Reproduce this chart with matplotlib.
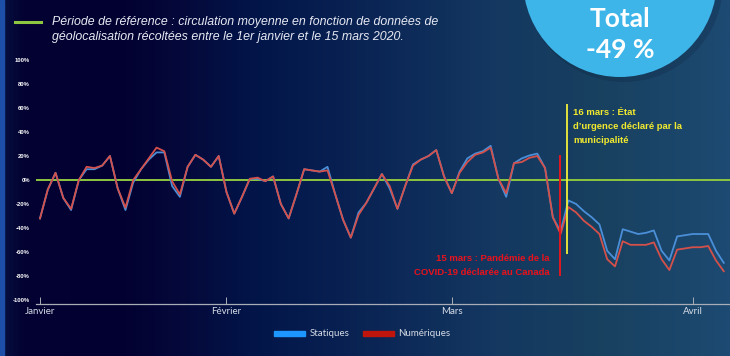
import matplotlib
matplotlib.use("Agg")
import matplotlib.pyplot as plt
import numpy as np
from matplotlib.colors import LinearSegmentedColormap
from matplotlib.patches import Circle, Rectangle

# daily values, first point = 8 janvier 2020
numeriques = [-32, -8, 6, -15, -24, 0, 11, 10, 12, 20,
              -7, -23, 0, 9, 18, 27, 24, -1, -12, 11,
              21, 17, 11, 20, -10, -28, -14, 1, 2, -1,
              3, -20, -32, -12, 9, 8, 7, 8, -12, -33,
              -48, -29, -19, -7, 5, -5, -24, -5, 12, 17,
              20, 25, 3, -11, 6, 15, 21, 23, 27, 1,
              -11, 14, 15, 18.5, 20, 10, -31, -45, -22.5, -27,
              -34, -39, -45, -66, -72, -51, -54, -54, -54, -52,
              -66, -75, -58, -57, -56, -56, -55, -67, -76]
statiques = [-32, -8, 6, -15, -25, 0, 9, 9, 12, 20,
             -7, -25, -2, 9, 17, 23, 23, -5, -14, 11,
             21, 17, 11, 20, -10, -28, -14, 1, 1, -1,
             3, -20, -32, -12, 9, 8, 7, 11, -12, -33,
             -48, -27, -19, -7, 5, -7, -24, -5, 13, 17,
             20, 25, 3, -11, 7, 18, 22, 24, 28.5, 1,
             -14, 14, 18, 20.5, 22, 10, -31, -43, -17, -20,
             -26, -31, -37, -59, -66, -41, -43, -45, -44, -42,
             -59, -67, -47, -46, -45, -45, -45, -59, -69]
month_ticks = [0, 24, 53, 84]
month_labels = ["Janvier", "Février", "Mars", "Avril"]
y_ticks = [100, 80, 60, 40, 20, 0, -20, -40, -60, -80, -100]

W, H = 730, 356
fig = plt.figure(figsize=(W / 100, H / 100), dpi=100)

# background in pixel coordinates
bg = fig.add_axes([0, 0, 1, 1])
bg.set_xlim(0, W)
bg.set_ylim(H, 0)
bg.axis("off")
cmap = LinearSegmentedColormap.from_list("bg", [
    (0.0, "#06103f"), (0.03, "#030232"), (0.16, "#020030"), (0.26, "#050a3c"),
    (0.34, "#021448"), (0.5, "#0a2454"), (0.68, "#143861"), (0.82, "#18405f"),
    (1.0, "#1d4a72")])
grad = np.linspace(0, 1, 400).reshape(1, -1)
bg.imshow(grad, cmap=cmap, extent=[0, W, H, 0], aspect="auto", zorder=0)
bg.add_patch(Rectangle((0, 0), 3.5, H, color="#1d4fa8", zorder=1))

# "Total" bubble
bg.add_patch(Circle((624, -17), 99, color="#0b1b33", alpha=0.2, zorder=2, lw=0))
bg.add_patch(Circle((620, -20), 97, color="#3db5e9", zorder=3, lw=0))
bg.text(620, 19, "Total", color="white", fontsize=19, fontweight="bold",
        family=["Lato", "DejaVu Sans"], ha="center", va="center", zorder=4)
bg.text(620, 50, "-49 %", color="white", fontsize=19, fontweight="bold",
        family=["Lato", "DejaVu Sans"], ha="center", va="center", zorder=4)

# top legend
bg.plot([15, 41], [22, 22], color="#8dc63f", lw=2.2, zorder=4)
bg.text(52, 22, "Période de référence : circulation moyenne en fonction de données de",
        color="#e6e8f2", fontsize=8.9, style="italic", family=["Liberation Sans", "DejaVu Sans"],
        va="center", zorder=4)
bg.text(52, 37, "géolocalisation récoltées entre le 1er janvier et le 15 mars 2020.",
        color="#e6e8f2", fontsize=8.9, style="italic", family=["Liberation Sans", "DejaVu Sans"],
        va="center", zorder=4)

# bottom legend
bg.add_patch(Rectangle((274, 331), 31, 5, color="#1e96ff", zorder=4))
bg.text(310, 333.5, "Statiques", color="#d6dce6", fontsize=7, family=["Lato", "DejaVu Sans"],
        va="center", zorder=4)
bg.add_patch(Rectangle((363, 331), 31, 5, color="#c0150c", zorder=4))
bg.text(398, 333.5, "Numériques", color="#d6dce6", fontsize=7, family=["Lato", "DejaVu Sans"],
        va="center", zorder=4)

# main chart
px_day = 7.77
left_px, right_px, top_px, bottom_px = 36, 730, 56.4, 304
ax = fig.add_axes([left_px / W, 1 - bottom_px / H, (right_px - left_px) / W,
                   (bottom_px - top_px) / H])
ax.patch.set_alpha(0)
ax.set_xlim((left_px - 40) / px_day, (right_px - 40) / px_day)
ax.set_ylim(-103.3, 103)

x = np.arange(len(numeriques))
ax.axhline(0, color="#8dc63f", lw=1.4, zorder=2)
ax.plot(x, statiques, color="#4a8fd8", lw=1.3, zorder=3)
ax.plot(x, numeriques, color="#d4504b", lw=1.3, zorder=4)

ax.vlines(66.9, -80, 21, color="#e5141e", lw=1.4, zorder=5)
ax.vlines(67.85, -62, 63, color="#f2ee3a", lw=1.3, zorder=5)
ax.text(68.6, 60, "16 mars : État\nd’urgence déclaré par la\nmunicipalité",
        color="#f2ea2e", fontsize=6.8, fontweight="bold", linespacing=1.7,
        family=["Liberation Sans", "DejaVu Sans"], ha="left", va="top", zorder=6)
ax.text(65.6, -62, "15 mars : Pandémie de la\nCOVID-19 déclarée au Canada",
        color="#e8121c", fontsize=6.8, fontweight="bold", linespacing=1.7,
        family=["Liberation Sans", "DejaVu Sans"], ha="right", va="top", zorder=6)

for side in ["top", "right", "left"]:
    ax.spines[side].set_visible(False)
ax.spines["bottom"].set_color("#a9adb5")
ax.spines["bottom"].set_linewidth(0.9)

ax.set_yticks(y_ticks)
ax.set_yticklabels([f"{v}%" for v in y_ticks], fontsize=4.2, fontweight="bold",
                   color="white", family=["Liberation Sans", "DejaVu Sans"])
ax.tick_params(axis="y", length=0, pad=4.5)
ax.set_xticks(month_ticks)
ax.set_xticklabels(month_labels, fontsize=7, color="#d6dce6", family=["Lato", "DejaVu Sans"])
ax.tick_params(axis="x", direction="in", length=5, width=0.7, color="#a9adb5", pad=2.5)

fig.savefig("out.png", dpi=100)
